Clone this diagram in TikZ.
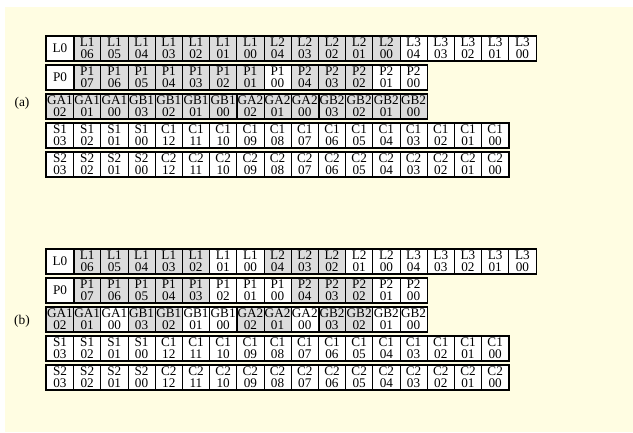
\documentclass[tikz,border=0pt]{standalone}
\usepackage{fontspec}
\setmainfont{Liberation Serif}
\definecolor{cream}{HTML}{FFFDE2}
\definecolor{cg}{HTML}{DCDCDC}
\tikzset{
  cell/.style={draw=black, line width=0.75pt, minimum width=27.2pt, minimum height=24.5pt,
    inner sep=0pt, anchor=north west, align=center,
    font=\fontsize{13.2}{11.9}\selectfont},
  grpsep/.style={line width=1.7pt},
  rowframe/.style={line width=1.7pt},
  lbl/.style={font=\fontsize{13.4}{14}\selectfont, inner sep=0pt}
}
\newcommand\putrow[3]{%
  \foreach \tx/\fl [count=\i from 0] in {#3} {
    \node[cell, fill=\fl] (#1-\i) at ({46+27.2*\i}, {-(#2)}) {\tx};
  }}
\newcommand\gsep[2]{\draw[grpsep] (#1-#2.north east) -- (#1-#2.south east);}
\newcommand\frameit[2]{\draw[rowframe] (#1-0.north west) rectangle (#1-#2.south east);}
\begin{document}
\begin{tikzpicture}[x=1pt,y=1pt]
\useasboundingbox (0,0) rectangle (633,-432);
\fill[white] (0,0) rectangle (633,-432);
\fill[cream] (5,-7) rectangle (633,-432);

% ---------------- (a) ----------------
\putrow{aL}{35.5}{{L0}/white,{L1\\06}/cg,{L1\\05}/cg,{L1\\04}/cg,{L1\\03}/cg,{L1\\02}/cg,{L1\\01}/cg,{L1\\00}/cg,{L2\\04}/cg,{L2\\03}/cg,{L2\\02}/cg,{L2\\01}/cg,{L2\\00}/cg,{L3\\04}/white,{L3\\03}/white,{L3\\02}/white,{L3\\01}/white,{L3\\00}/white}
\gsep{aL}{0}\gsep{aL}{7}\gsep{aL}{12}\frameit{aL}{17}

\putrow{aP}{64.5}{{P0}/white,{P1\\07}/cg,{P1\\06}/cg,{P1\\05}/cg,{P1\\04}/cg,{P1\\03}/cg,{P1\\02}/cg,{P1\\01}/cg,{P1\\00}/white,{P2\\04}/cg,{P2\\03}/cg,{P2\\02}/cg,{P2\\01}/white,{P2\\00}/white}
\gsep{aP}{0}\gsep{aP}{8}\frameit{aP}{13}

\putrow{aG}{93.5}{{GA1\\02}/cg,{GA1\\01}/cg,{GA1\\00}/cg,{GB1\\03}/cg,{GB1\\02}/cg,{GB1\\01}/cg,{GB1\\00}/cg,{GA2\\02}/cg,{GA2\\01}/cg,{GA2\\00}/cg,{GB2\\03}/cg,{GB2\\02}/cg,{GB2\\01}/cg,{GB2\\00}/cg}
\gsep{aG}{2}\gsep{aG}{6}\gsep{aG}{9}\frameit{aG}{13}

\putrow{aS}{122.5}{{S1\\03}/white,{S1\\02}/white,{S1\\01}/white,{S1\\00}/white,{C1\\12}/white,{C1\\11}/white,{C1\\10}/white,{C1\\09}/white,{C1\\08}/white,{C1\\07}/white,{C1\\06}/white,{C1\\05}/white,{C1\\04}/white,{C1\\03}/white,{C1\\02}/white,{C1\\01}/white,{C1\\00}/white}
\gsep{aS}{3}\frameit{aS}{16}

\putrow{aT}{151.5}{{S2\\03}/white,{S2\\02}/white,{S2\\01}/white,{S2\\00}/white,{C2\\12}/white,{C2\\11}/white,{C2\\10}/white,{C2\\09}/white,{C2\\08}/white,{C2\\07}/white,{C2\\06}/white,{C2\\05}/white,{C2\\04}/white,{C2\\03}/white,{C2\\02}/white,{C2\\01}/white,{C2\\00}/white}
\gsep{aT}{3}\frameit{aT}{16}

\node[lbl] (la) at (22,-103) {(a)};

% ---------------- (b) ----------------
\putrow{bL}{248.5}{{L0}/white,{L1\\06}/cg,{L1\\05}/cg,{L1\\04}/cg,{L1\\03}/cg,{L1\\02}/cg,{L1\\01}/white,{L1\\00}/white,{L2\\04}/cg,{L2\\03}/cg,{L2\\02}/cg,{L2\\01}/white,{L2\\00}/white,{L3\\04}/white,{L3\\03}/white,{L3\\02}/white,{L3\\01}/white,{L3\\00}/white}
\gsep{bL}{0}\gsep{bL}{7}\gsep{bL}{12}\frameit{bL}{17}

\putrow{bP}{277.5}{{P0}/white,{P1\\07}/cg,{P1\\06}/cg,{P1\\05}/cg,{P1\\04}/cg,{P1\\03}/cg,{P1\\02}/white,{P1\\01}/white,{P1\\00}/white,{P2\\04}/cg,{P2\\03}/cg,{P2\\02}/cg,{P2\\01}/white,{P2\\00}/white}
\gsep{bP}{0}\gsep{bP}{8}\frameit{bP}{13}

\putrow{bG}{306.5}{{GA1\\02}/cg,{GA1\\01}/cg,{GA1\\00}/white,{GB1\\03}/cg,{GB1\\02}/cg,{GB1\\01}/white,{GB1\\00}/white,{GA2\\02}/cg,{GA2\\01}/cg,{GA2\\00}/white,{GB2\\03}/cg,{GB2\\02}/cg,{GB2\\01}/white,{GB2\\00}/white}
\gsep{bG}{2}\gsep{bG}{6}\gsep{bG}{9}\frameit{bG}{13}

\putrow{bS}{335.5}{{S1\\03}/white,{S1\\02}/white,{S1\\01}/white,{S1\\00}/white,{C1\\12}/white,{C1\\11}/white,{C1\\10}/white,{C1\\09}/white,{C1\\08}/white,{C1\\07}/white,{C1\\06}/white,{C1\\05}/white,{C1\\04}/white,{C1\\03}/white,{C1\\02}/white,{C1\\01}/white,{C1\\00}/white}
\gsep{bS}{3}\frameit{bS}{16}

\putrow{bT}{364.5}{{S2\\03}/white,{S2\\02}/white,{S2\\01}/white,{S2\\00}/white,{C2\\12}/white,{C2\\11}/white,{C2\\10}/white,{C2\\09}/white,{C2\\08}/white,{C2\\07}/white,{C2\\06}/white,{C2\\05}/white,{C2\\04}/white,{C2\\03}/white,{C2\\02}/white,{C2\\01}/white,{C2\\00}/white}
\gsep{bT}{3}\frameit{bT}{16}

\node[lbl] (lb) at (22,-321) {(b)};
\end{tikzpicture}
\end{document}
